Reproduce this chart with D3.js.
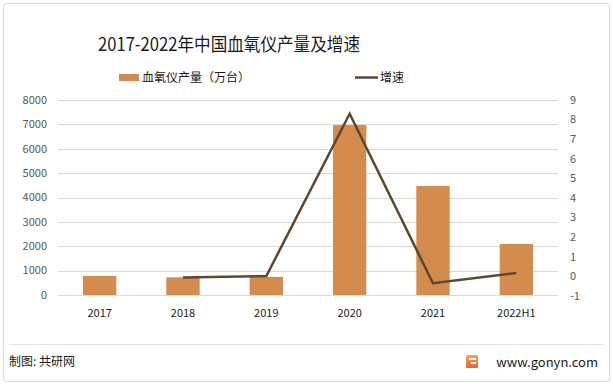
<!DOCTYPE html>
<html>
<head>
<meta charset="utf-8">
<script src="https://cdn.jsdelivr.net/npm/d3@7"></script>
<style>
  body { margin: 0; background: #fff; }
  text { font-family: "Noto Sans CJK SC", "Noto Sans", sans-serif; }
</style>
</head>
<body>
<div id="chart"></div>
<script>
// 数据
const years = ["2017", "2018", "2019", "2020", "2021", "2022H1"];
const output = [780, 725, 740, 6970, 4470, 2090];          // 血氧仪产量（万台）
const growth = [null, -0.06, 0.02, 8.3, -0.35, 0.17];     // 增速
const leftTicks = [0, 1000, 2000, 3000, 4000, 5000, 6000, 7000, 8000];
const rightTicks = [-1, 0, 1, 2, 3, 4, 5, 6, 7, 8, 9];

const W = 613, H = 385;
const plot = { left: 58, right: 558, top: 100, bottom: 295 };

const svg = d3.select("#chart")
    .append("svg")
    .attr("width", W)
    .attr("height", H);

// 外框
svg.append("rect")
    .attr("x", 3.5).attr("y", 3.5)
    .attr("width", W - 7).attr("height", H - 7)
    .attr("rx", 3)
    .attr("fill", "#fff")
    .attr("stroke", "#d9d9d9");

// 标题
svg.append("text")
    .attr("x", 98)
    .attr("y", 51)
    .attr("font-size", 18)
    .attr("textLength", 262)
    .attr("lengthAdjust", "spacingAndGlyphs")
    .attr("fill", "#1a1a1a")
    .text("2017-2022年中国血氧仪产量及增速");

const x = d3.scaleBand()
    .domain(years)
    .range([plot.left, plot.right])
    .paddingInner(0.6)
    .paddingOuter(0.3);

const yL = d3.scaleLinear().domain([0, 8000]).range([plot.bottom, plot.top]);
const yR = d3.scaleLinear().domain([-1, 9]).range([plot.bottom + 1, plot.top]);

// 网格线
svg.append("g")
    .selectAll("line")
    .data(leftTicks)
    .enter()
    .append("line")
    .attr("x1", plot.left)
    .attr("x2", plot.right)
    .attr("y1", d => Math.round(yL(d)) + 0.5)
    .attr("y2", d => Math.round(yL(d)) + 0.5)
    .attr("stroke", "#d9d9d9");

// 左轴
svg.append("g")
    .selectAll("text")
    .data(leftTicks)
    .enter()
    .append("text")
    .attr("x", 47)
    .attr("y", d => yL(d))
    .attr("dy", "0.35em")
    .attr("text-anchor", "end")
    .attr("font-size", 11)
    .attr("fill", "#595959")
    .text(d => d);

// 右轴
svg.append("g")
    .selectAll("text")
    .data(rightTicks)
    .enter()
    .append("text")
    .attr("x", 570)
    .attr("y", d => yR(d))
    .attr("dy", "0.35em")
    .attr("font-size", 11)
    .attr("fill", "#595959")
    .text(d => d);

// 柱
const bw = x.bandwidth();
svg.append("g")
    .selectAll("rect")
    .data(years)
    .enter()
    .append("rect")
    .attr("x", d => x(d))
    .attr("y", (d, i) => yL(output[i]))
    .attr("width", bw)
    .attr("height", (d, i) => yL(0) - yL(output[i]))
    .attr("fill", "#d38b4e");

// X轴标签
svg.append("g")
    .selectAll("text")
    .data(years)
    .enter()
    .append("text")
    .attr("x", d => x(d) + bw / 2)
    .attr("y", 313)
    .attr("dy", "0.35em")
    .attr("text-anchor", "middle")
    .attr("font-size", 11)
    .attr("fill", "#1a1a1a")
    .text(d => d);

// 增速折线
const lineData = years.map((d, i) => ({ year: d, v: growth[i] })).filter(d => d.v !== null);
svg.append("path")
    .datum(lineData)
    .attr("fill", "none")
    .attr("stroke", "#5e4630")
    .attr("stroke-width", 2.5)
    .attr("stroke-linejoin", "miter")
    .attr("d", d3.line()
        .x(d => x(d.year) + bw / 2)
        .y(d => yR(d.v)));

// 图例
svg.append("rect")
    .attr("x", 119).attr("y", 74)
    .attr("width", 20).attr("height", 7)
    .attr("fill", "#d38b4e");
svg.append("text")
    .attr("x", 142).attr("y", 78)
    .attr("dy", "0.35em")
    .attr("font-size", 12)
    .attr("fill", "#1a1a1a")
    .text("血氧仪产量（万台）");
svg.append("line")
    .attr("x1", 355).attr("x2", 378)
    .attr("y1", 77.5).attr("y2", 77.5)
    .attr("stroke", "#5e4630")
    .attr("stroke-width", 2.5);
svg.append("text")
    .attr("x", 380).attr("y", 78)
    .attr("dy", "0.35em")
    .attr("font-size", 12)
    .attr("fill", "#1a1a1a")
    .text("增速");

// 底部
svg.append("line")
    .attr("x1", 9).attr("x2", 604)
    .attr("y1", 344.5).attr("y2", 344.5)
    .attr("stroke", "#e3e3e3");
svg.append("text")
    .attr("x", 9).attr("y", 362)
    .attr("dy", "0.35em")
    .attr("font-size", 12)
    .attr("fill", "#1a1a1a")
    .text("制图: 共研网");

// logo
const logo = svg.append("g").attr("transform", "translate(466,355)");
const grad = svg.append("defs").append("linearGradient")
    .attr("id", "lg").attr("x1", 0).attr("y1", 0).attr("x2", 0).attr("y2", 1);
grad.append("stop").attr("offset", 0).attr("stop-color", "#f7a35c");
grad.append("stop").attr("offset", 1).attr("stop-color", "#e8613a");
logo.append("rect").attr("width", 12).attr("height", 13).attr("rx", 1.5).attr("fill", "url(#lg)");
logo.append("rect").attr("x", 3).attr("y", 3).attr("width", 7).attr("height", 2).attr("fill", "#fff");
logo.append("rect").attr("x", 5).attr("y", 7).attr("width", 5).attr("height", 2).attr("fill", "#fff");

svg.append("text")
    .attr("x", 598).attr("y", 362)
    .attr("dy", "0.35em")
    .attr("text-anchor", "end")
    .attr("font-size", 13)
    .attr("fill", "#1a1a1a")
    .text("www.gonyn.com");
</script>
</body>
</html>
